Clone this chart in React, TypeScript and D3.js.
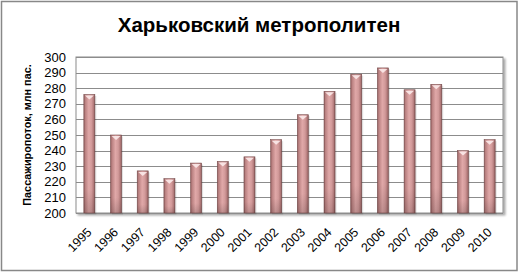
import React from "react";
import * as d3 from "d3";

const years = ["1995","1996","1997","1998","1999","2000","2001","2002","2003","2004","2005","2006","2007","2008","2009","2010"];
const passengers = [276, 250, 227, 222, 232, 233, 236, 247, 263, 278, 289, 293, 279, 282.5, 240, 247];
const yTicks = [200, 210, 220, 230, 240, 250, 260, 270, 280, 290, 300];
const title = "Харьковский метрополитен";
const yTitle = "Пассажиропоток,  млн пас.";

const W = 520, H = 273;
const plot = { left: 76, right: 503, top: 57, bottom: 213 };

export default function App() {
  const x = d3.scaleBand<string>().domain(years).range([plot.left, plot.right]);
  const y = d3.scaleLinear().domain([200, 300]).range([plot.bottom, plot.top]);
  const barW = 11;
  const font = "'Liberation Sans', Arial, sans-serif";
  return (
    <svg width={W} height={H} style={{ position: "absolute", left: 0, top: 0 }}>
      <defs>
        <linearGradient id="barGrad" x1="0" x2="1" y1="0" y2="0">
          <stop offset="0" stopColor="#8a5858" />
          <stop offset="0.12" stopColor="#b98080" />
          <stop offset="0.45" stopColor="#e0a8a8" />
          <stop offset="0.7" stopColor="#d29a9a" />
          <stop offset="0.9" stopColor="#b07878" />
          <stop offset="1" stopColor="#7e5050" />
        </linearGradient>
        <linearGradient id="barV" x1="0" x2="0" y1="0" y2="1">
          <stop offset="0" stopColor="#000" stopOpacity="0" />
          <stop offset="0.8" stopColor="#000" stopOpacity="0" />
          <stop offset="1" stopColor="#000" stopOpacity="0.15" />
        </linearGradient>
        <filter id="shadow" x="-20%" y="-5%" width="150%" height="115%">
          <feGaussianBlur in="SourceAlpha" stdDeviation="1.2" />
          <feOffset dx="2" dy="2" result="b" />
          <feComponentTransfer><feFuncA type="linear" slope="0.35" /></feComponentTransfer>
          <feMerge><feMergeNode /><feMergeNode in="SourceGraphic" /></feMerge>
        </filter>
      </defs>
      <rect x={0} y={0} width={W} height={H} fill="#fff" />
      <rect x={1.5} y={1.5} width={515.5} height={269} fill="#fff" stroke="#888" strokeWidth={1.5} />
      <text x={259} y={32} textAnchor="middle" fontFamily={font} fontWeight="bold" fontSize={20.5} fill="#000">{title}</text>
      <rect x={plot.left} y={plot.top} width={plot.right - plot.left} height={plot.bottom - plot.top} fill="#fff" stroke="#8c8c8c" strokeWidth={1} filter="url(#shadow)" />
      {yTicks.map(t => (
        <line key={t} x1={plot.left} x2={plot.right} y1={Math.round(y(t)) + 0.5} y2={Math.round(y(t)) + 0.5} stroke="#8c8c8c" strokeWidth={1} />
      ))}
      {yTicks.map(t => (
        <text key={"l" + t} x={66} y={y(t) + 4.5} textAnchor="end" fontFamily={font} fontSize={13} fill="#000">{t}</text>
      ))}
      <text transform={`translate(31,${(plot.top + plot.bottom) / 2}) rotate(-90)`} textAnchor="middle" fontFamily={font} fontWeight="bold" fontSize={10.8} fill="#000">{yTitle}</text>
      {years.map((yr, i) => {
        const cx = (x(yr) as number) + x.bandwidth() / 2;
        const top = y(passengers[i]);
        const bx = cx - barW / 2;
        const h = plot.bottom - top;
        return (
          <g key={yr}>
            <rect x={bx + 1.5} y={top + 1.5} width={barW} height={h} fill="#000" opacity={0.12} />
            <rect x={bx} y={top} width={barW} height={h} fill="url(#barGrad)" stroke="#7a4e4e" strokeWidth={0.6} />
            <rect x={bx} y={top} width={barW} height={h} fill="url(#barV)" />
            <path d={`M${bx + 1},${top + 1} L${bx + barW - 1},${top + 1} L${cx},${top + 5} Z`} fill="#fbeaea" opacity={0.9} />
          </g>
        );
      })}
      {years.map(yr => {
        const cx = (x(yr) as number) + x.bandwidth() / 2;
        return (
          <text key={"x" + yr} transform={`translate(${cx + 3},${233}) rotate(-45)`} textAnchor="end" fontFamily={font} fontSize={12.5} fill="#000">{yr}</text>
        );
      })}
    </svg>
  );
}
